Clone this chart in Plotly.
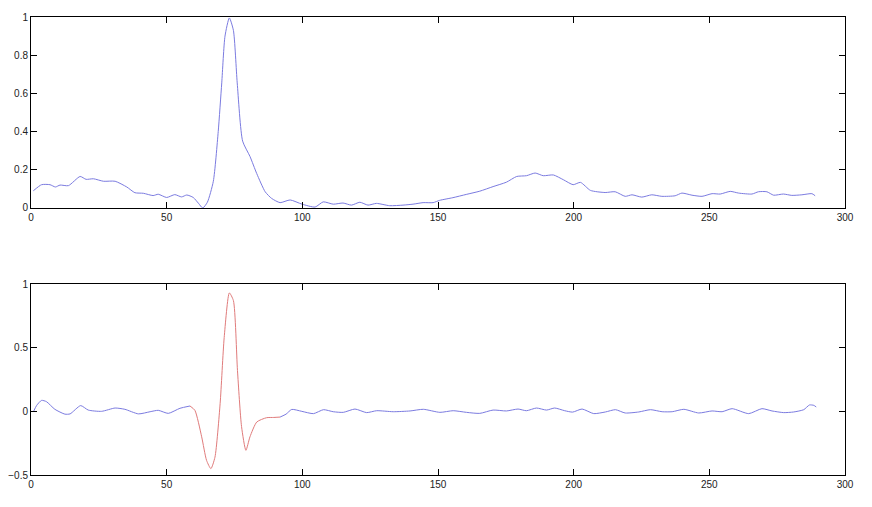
import numpy as np
import plotly.graph_objects as go
from plotly.subplots import make_subplots

# ── Data ─────────────────────────────────────────────────────
top_x = [0.85, 3.9, 7.0, 9.0, 10.7, 13.8, 18.1, 20.3, 23.0, 26.7, 31.0, 35.3, 38.3, 41.4,
         45.0, 46.9, 50.0, 53.0, 55.5, 57.4, 59.8, 61.7, 63.3, 65.0, 67.2, 69.0, 70.3, 71.5,
         73.1, 74.6, 76.0, 78.0, 80.7, 83.2, 86.3, 88.7, 91.8, 95.5, 99.9, 104.7, 107.7,
         111.4, 115.0, 118.1, 121.2, 124.2, 127.3, 132.2, 137.1, 140.8, 144.5, 148.2, 150.6,
         155.5, 160.4, 165.4, 170.3, 175.2, 179.0, 182.6, 185.8, 188.8, 192.5, 196.2, 199.8,
         202.5, 206.2, 211.6, 215.3, 219.0, 221.5, 225.1, 228.8, 232.5, 237.4, 239.9, 243.6,
         247.3, 251.0, 254.0, 257.7, 260.8, 265.7, 268.1, 271.2, 273.7, 277.3, 280.4, 284.1,
         287.8, 289.0]
top_y = [0.09, 0.122, 0.122, 0.11, 0.12, 0.117, 0.165, 0.15, 0.153, 0.14, 0.14, 0.11, 0.08, 0.077,
         0.065, 0.072, 0.055, 0.07, 0.058, 0.068, 0.055, 0.025, 0.0, 0.03, 0.14, 0.4, 0.655, 0.9,
         0.995, 0.93, 0.655, 0.35, 0.27, 0.18, 0.085, 0.05, 0.028, 0.042, 0.02, 0.005, 0.032,
         0.02, 0.026, 0.015, 0.03, 0.015, 0.024, 0.012, 0.015, 0.02, 0.028, 0.028, 0.04,
         0.054, 0.071, 0.088, 0.112, 0.135, 0.165, 0.169, 0.183, 0.169, 0.173, 0.148, 0.122,
         0.134, 0.092, 0.081, 0.085, 0.061, 0.069, 0.057, 0.069, 0.061, 0.064, 0.078, 0.067,
         0.061, 0.075, 0.073, 0.087, 0.078, 0.073, 0.085, 0.085, 0.067, 0.073, 0.066, 0.069,
         0.075, 0.064]

bot_x = [0.85, 2.1, 3.9, 5.7, 8.8, 12.5, 14.4, 18.3, 21.1, 26.0, 31.0, 34.6, 39.6, 43.9, 46.9,
         50.6, 54.9, 58.6, 60.4, 62.9, 64.7, 66.3, 67.8, 69.7, 71.2, 73.1, 74.6, 76.1, 77.6,
         79.2, 80.7, 83.2, 86.8, 89.5, 91.8, 94.0, 96.1, 99.8, 104.1, 107.8, 111.4, 115.1,
         119.4, 123.7, 127.4, 133.5, 139.7, 144.6, 150.7, 155.6, 160.5, 165.4, 170.3, 175.2,
         179.5, 182.6, 186.3, 190.0, 193.0, 196.7, 199.6, 203.1, 207.4, 211.7, 215.4, 219.0,
         224.0, 228.3, 232.6, 236.3, 240.6, 246.1, 251.0, 254.7, 258.4, 264.5, 269.4, 273.1,
         277.4, 281.1, 284.8, 286.9, 288.5, 289.4]
bot_y = [-0.005, 0.047, 0.086, 0.076, 0.016, -0.022, -0.02, 0.045, 0.01, 0.0, 0.026, 0.016,
         -0.02, -0.003, 0.008, -0.016, 0.024, 0.042, 0.008, -0.2, -0.385, -0.45, -0.36, 0.06,
         0.58, 0.93, 0.87, 0.32, -0.12, -0.306, -0.2, -0.084, -0.05, -0.048, -0.045, -0.022,
         0.015, 0.0, -0.018, 0.013, -0.003, -0.008, 0.018, -0.01, 0.005, -0.003, 0.003, 0.016,
         -0.008, 0.005, -0.008, -0.016, 0.01, 0.003, 0.018, 0.005, 0.026, 0.01, 0.026, 0.005,
         -0.006, 0.018, -0.018, -0.005, 0.013, -0.013, -0.005, 0.013, -0.003, -0.003, 0.016,
         -0.013, 0.003, -0.003, 0.021, -0.018, 0.021, 0.003, -0.01, -0.005, 0.013, 0.05, 0.047,
         0.034]

# highlighted (red) stretch of the lower trace
RED_START, RED_END = 58.6, 91.8

x_ticks = [0, 50, 100, 150, 200, 250, 300]
top_ticks = [0, 0.2, 0.4, 0.6, 0.8, 1]
top_labels = ["0", "0.2", "0.4", "0.6", "0.8", "1"]
bot_ticks = [-0.5, 0, 0.5, 1]
bot_labels = ["\u22120.5", "0", "0.5", "1"]

# ── Style ─────────────────────────────────────────────────────
BLUE = "#7b7be0"
RED = "#e07b7b"
FONT = dict(family="Liberation Sans, Arial, sans-serif", size=10, color="#222")
LINE = dict(width=1, shape="spline", smoothing=0.6)

fig = make_subplots(rows=2, cols=1, vertical_spacing=0.166)

fig.add_trace(go.Scatter(x=top_x, y=top_y, mode="lines",
                         line=dict(color=BLUE, **LINE)), row=1, col=1)

bx, by = np.array(bot_x), np.array(bot_y)
left = bx <= RED_START
mid = (bx >= RED_START) & (bx <= RED_END)
right = bx >= RED_END
for m, col in [(left, BLUE), (mid, RED), (right, BLUE)]:
    fig.add_trace(go.Scatter(x=bx[m], y=by[m], mode="lines",
                             line=dict(color=col, **LINE)), row=2, col=1)

ax = dict(showline=True, linecolor="black", linewidth=1, mirror="ticks",
          ticks="inside", ticklen=6, tickcolor="black", showgrid=False,
          zeroline=False, tickfont=FONT, automargin=False)

fig.update_xaxes(**ax, range=[0, 300], tickvals=x_ticks)
fig.update_yaxes(**ax)
fig.update_yaxes(range=[0, 1], tickvals=top_ticks, ticktext=top_labels, row=1, col=1)
fig.update_yaxes(range=[-0.5, 1], tickvals=bot_ticks, ticktext=bot_labels, row=2, col=1)

# page body adds an 8px offset, margins compensate for it
fig.update_layout(width=872, height=507, showlegend=False,
                  paper_bgcolor="white", plot_bgcolor="white",
                  margin=dict(l=23, r=35, t=9, b=40), font=FONT)

fig.write_html("out.html")
